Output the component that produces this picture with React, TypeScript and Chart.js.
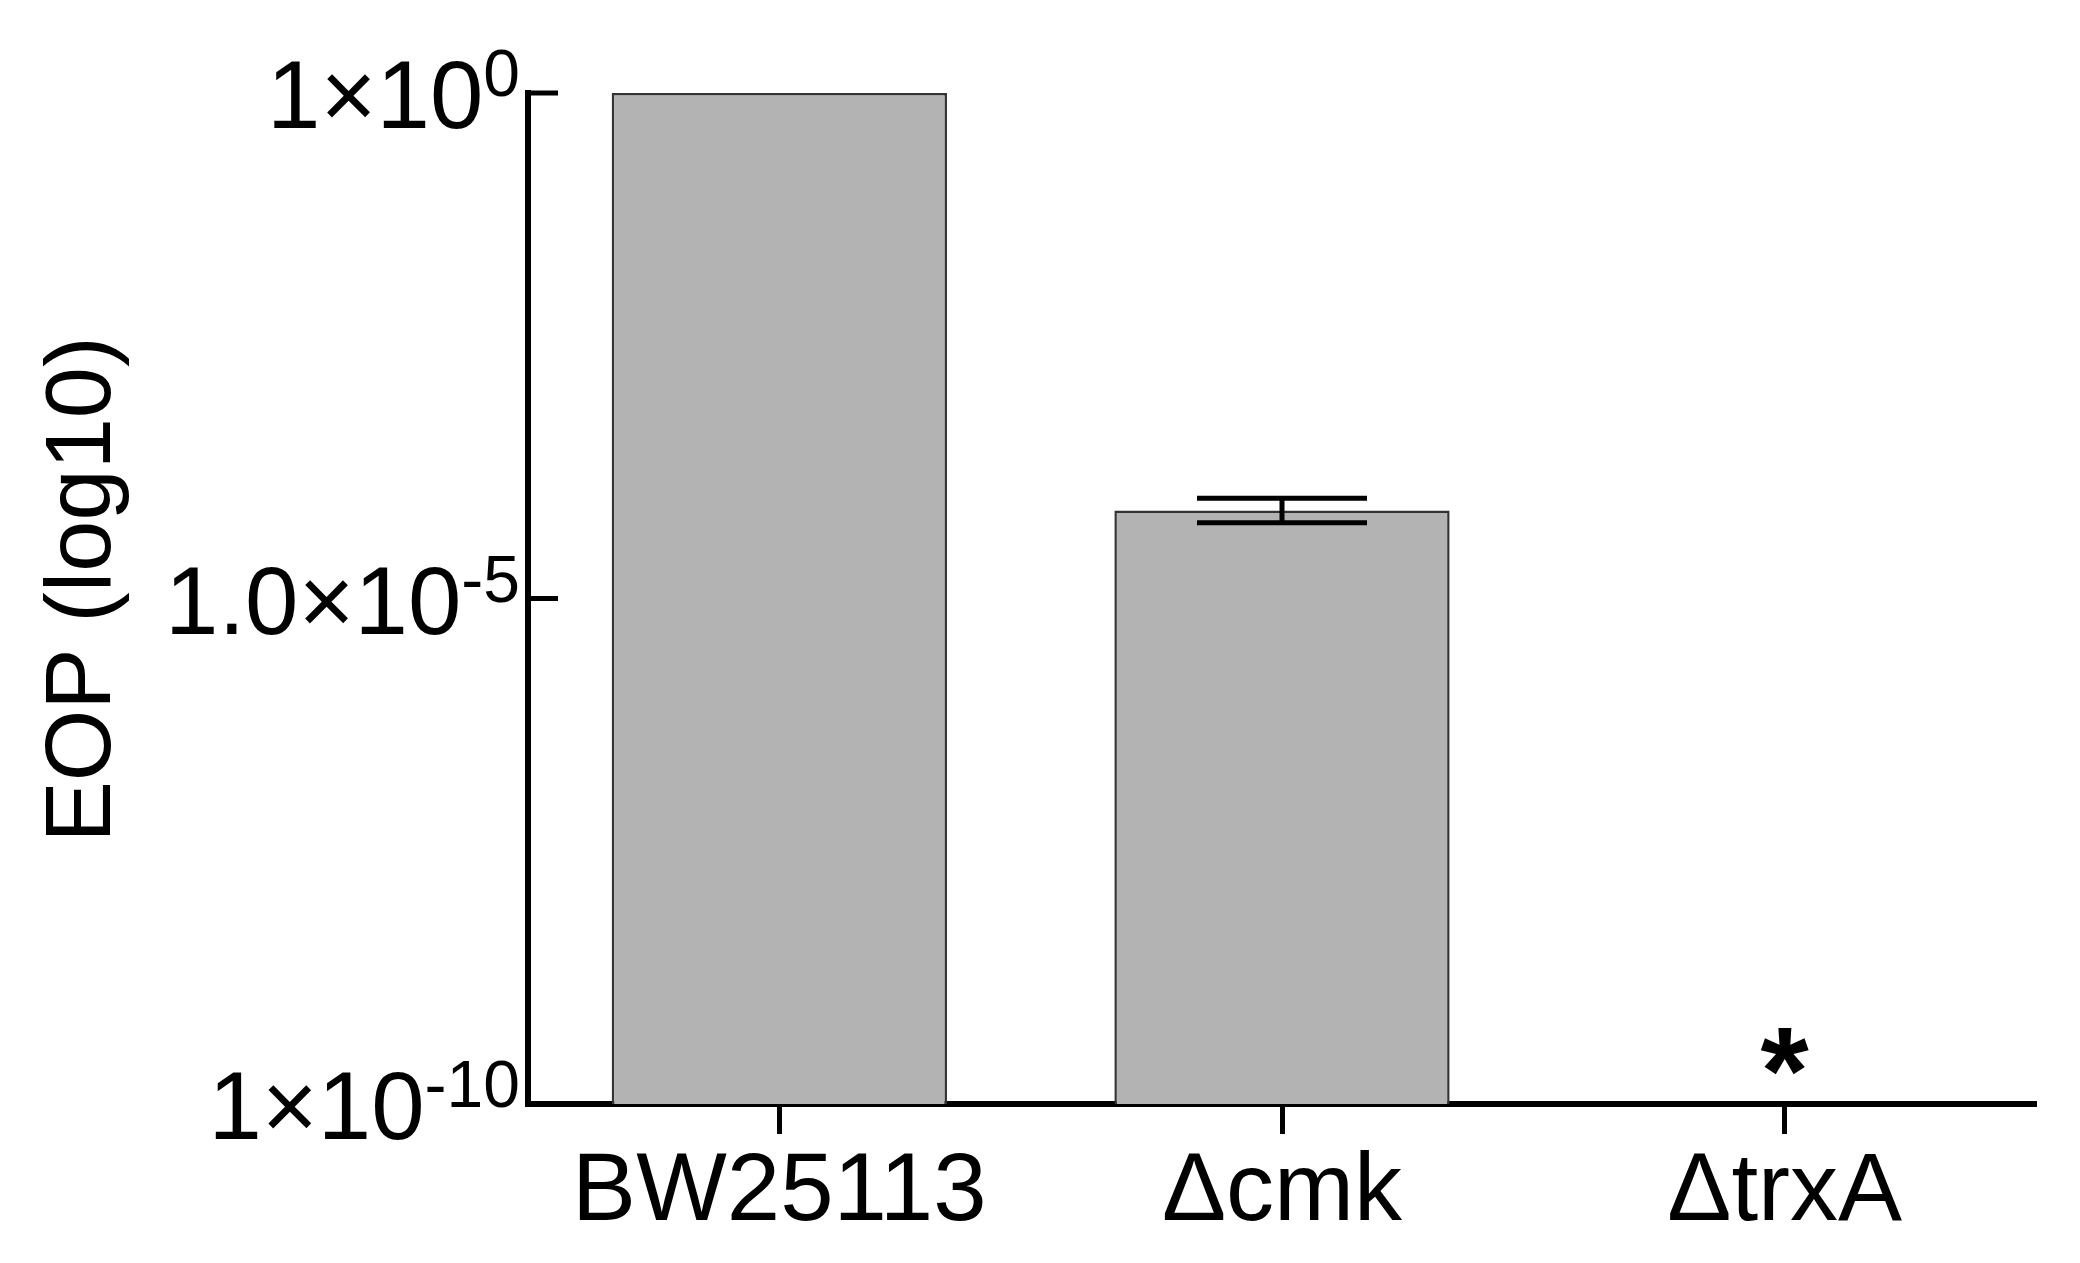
import React, { useEffect, useRef } from "react";
import { Chart, registerables } from "chart.js";

Chart.register(...registerables);

const categories = ["BW25113", "\u0394cmk", "\u0394trxA"];
const eopValues: (number | null)[] = [1, 7.4e-5, null];
const eopLower: (number | null)[] = [null, 5.6e-5, null];
const eopUpper: (number | null)[] = [null, 9.8e-5, null];
const significance: string[] = ["", "", "*"];
const yTickValues: number[] = [1, 1e-5, 1e-10];
const yTickMantissas: string[] = ["1", "1.0", "1"];
const yTickExponents: string[] = ["0", "-5", "-10"];
const yTitle = "EOP (log10)";

const FONT = "'Liberation Sans', Arial, Helvetica, sans-serif";

const overlayPlugin = {
  id: "overlay",
  afterDatasetsDraw(chart: any) {
    const ctx: CanvasRenderingContext2D = chart.ctx;
    const xs = chart.scales.x;
    const ys = chart.scales.y;
    const area = chart.chartArea;
    ctx.save();
    ctx.strokeStyle = "#000";
    ctx.fillStyle = "#000";
    ctx.lineCap = "butt";

    // error bars
    ctx.lineWidth = 5;
    eopValues.forEach((v, i) => {
      const lo = eopLower[i];
      const hi = eopUpper[i];
      if (v == null || lo == null || hi == null) return;
      const cx = xs.getPixelForValue(i);
      const yHi = ys.getPixelForValue(hi);
      const yLo = ys.getPixelForValue(lo);
      const half = 85;
      ctx.beginPath();
      ctx.moveTo(cx, yHi);
      ctx.lineTo(cx, yLo);
      ctx.moveTo(cx - half, yHi);
      ctx.lineTo(cx + half, yHi);
      ctx.moveTo(cx - half, yLo);
      ctx.lineTo(cx + half, yLo);
      ctx.stroke();
    });

    // significance markers
    ctx.font = `bold 124px ${FONT}`;
    ctx.textAlign = "center";
    ctx.textBaseline = "alphabetic";
    significance.forEach((s, i) => {
      if (!s) return;
      ctx.fillText(s, xs.getPixelForValue(i), area.bottom + 10);
    });

    // inward y ticks
    ctx.lineWidth = 5;
    yTickValues.forEach((v) => {
      const py = ys.getPixelForValue(v);
      ctx.beginPath();
      ctx.moveTo(area.left - 3, py);
      ctx.lineTo(area.left + 30, py);
      ctx.stroke();
    });

    // y tick labels with superscripts
    yTickValues.forEach((v, i) => {
      const py = ys.getPixelForValue(v);
      const right = area.left - 8;
      ctx.textAlign = "right";
      ctx.textBaseline = "alphabetic";
      ctx.font = `66px ${FONT}`;
      const supW = ctx.measureText(yTickExponents[i]).width;
      ctx.fillText(yTickExponents[i], right, py + 3);
      ctx.font = `96px ${FONT}`;
      ctx.fillText(yTickMantissas[i] + "\u00d710", right - supW, py + 35);
    });

    // y title
    ctx.save();
    ctx.translate(110, (area.top + area.bottom) / 2 - 9);
    ctx.rotate(-Math.PI / 2);
    ctx.font = `92px ${FONT}`;
    ctx.textAlign = "center";
    ctx.textBaseline = "alphabetic";
    ctx.fillText(yTitle, 0, 0);
    ctx.restore();

    ctx.restore();
  },
};

export default function App() {
  const canvasRef = useRef<HTMLCanvasElement | null>(null);

  useEffect(() => {
    document.body.style.margin = "0";
    const canvas = canvasRef.current;
    if (!canvas) return;
    const chart = new Chart(canvas, {
      type: "bar",
      data: {
        labels: categories,
        datasets: [
          {
            data: eopValues as any,
            backgroundColor: "#b3b3b3",
            borderColor: "#333333",
            borderWidth: 2.5,
            barPercentage: 0.667,
            categoryPercentage: 1,
            clip: false as any,
          },
        ],
      },
      options: {
        animation: false,
        responsive: false,
        devicePixelRatio: 1,
        layout: { padding: { top: 93, right: 44, left: 0, bottom: 0 } },
        plugins: {
          legend: { display: false },
          tooltip: { enabled: false },
        },
        scales: {
          x: {
            type: "category",
            offset: true,
            grid: {
              display: true,
              drawOnChartArea: false,
              drawTicks: true,
              tickLength: 30,
              tickWidth: 5,
              tickColor: "#000",
              offset: false,
            },
            border: { display: true, width: 6, color: "#000" },
            ticks: {
              color: "#000",
              padding: 2,
              font: { family: FONT, size: 96 },
              maxRotation: 0,
              autoSkip: false,
            },
            afterFit: (s: any) => {
              s.height = 1263 - 1104;
            },
          },
          y: {
            type: "logarithmic",
            min: 1e-10,
            max: 1,
            grid: { display: false },
            border: { display: true, width: 6, color: "#000" },
            ticks: { display: false },
            afterBuildTicks: (s: any) => {
              s.ticks = yTickValues.map((v) => ({ value: v }));
            },
            afterFit: (s: any) => {
              s.width = 528;
            },
          },
        },
      },
      plugins: [overlayPlugin],
    });
    return () => chart.destroy();
  }, []);

  return (
    <div style={{ position: "absolute", left: 0, top: 0, width: 2080, height: 1263, background: "#fff" }}>
      <canvas ref={canvasRef} width={2080} height={1263} style={{ width: 2080, height: 1263, display: "block" }} />
    </div>
  );
}
